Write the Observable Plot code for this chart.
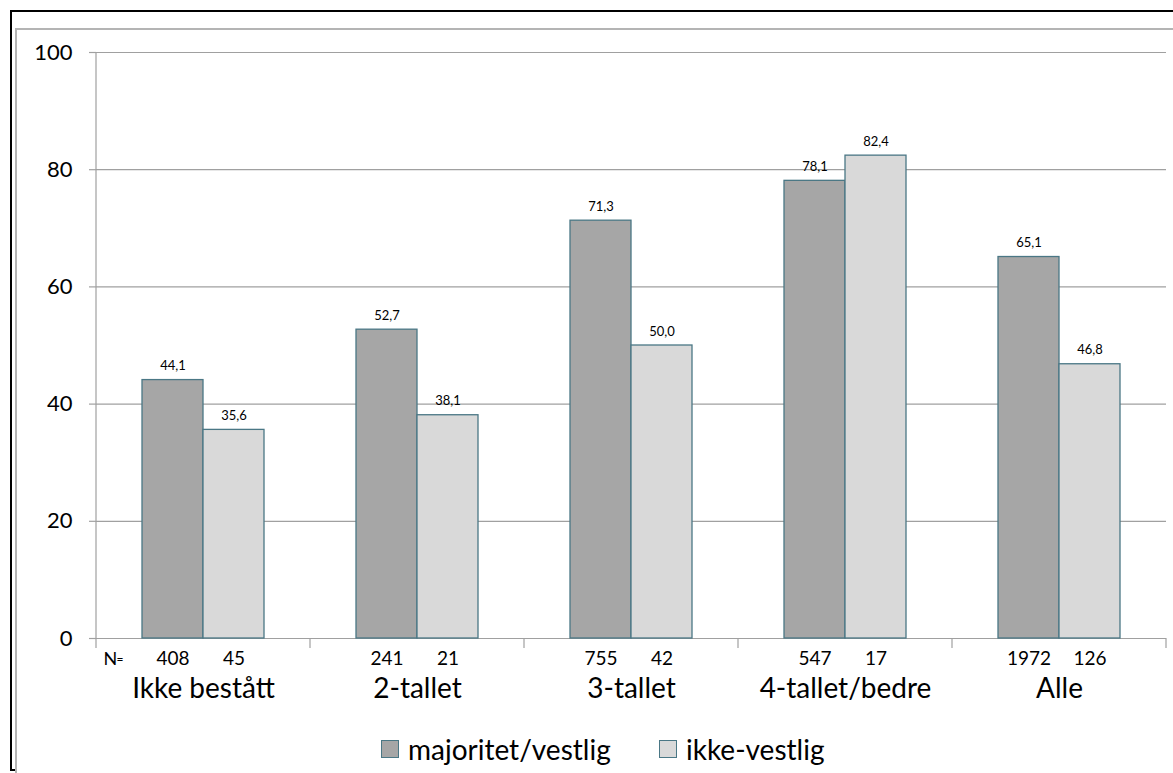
<!DOCTYPE html>
<html>
<head>
<meta charset="utf-8">
<script src="https://cdn.jsdelivr.net/npm/d3@7"></script>
<script src="https://cdn.jsdelivr.net/npm/@observablehq/plot@0.6"></script>
<style>
  html, body { margin: 0; padding: 0; background: #fff; }
  body { width: 1173px; height: 773px; position: relative; overflow: hidden; font-family: Lato, "Open Sans", sans-serif; }
  #chart { position: absolute; left: 0; top: 0; z-index: 1; }
  .bline { position: absolute; background: #000; z-index: 5; }
  .gline { position: absolute; background: #b4b4b4; z-index: 4; }
  .item { position: absolute; top: 731px; display: flex; align-items: center; font-size: 28px; line-height: 36px; color: #000; z-index: 2; }
  .sw { width: 18px; height: 18px; border: 1.3px solid #4a7785; margin-right: 9px; box-sizing: border-box; }
</style>
</head>
<body>
<div class="gline" style="left:15px; top:28px; width:1158px; height:2px;"></div>
<div class="gline" style="left:15px; top:28px; width:2px; height:745px;"></div>
<div class="bline" style="left:10px; top:10px; width:1163px; height:2px;"></div>
<div class="bline" style="left:10px; top:10px; width:2px; height:761px;"></div>
<div class="bline" style="left:10px; top:769px; width:5px; height:2px;"></div>
<div id="chart"></div>
<div id="legend"></div>
<script>
const categories = ["Ikke bestått", "2-tallet", "3-tallet", "4-tallet/bedre", "Alle"];
const series = ["majoritet/vestlig", "ikke-vestlig"];
const majoritetValues = [44.1, 52.7, 71.3, 78.1, 65.1];
const ikkeVestligValues = [35.6, 38.1, 50.0, 82.4, 46.8];
const majoritetN = [408, 241, 755, 547, 1972];
const ikkeVestligN = [45, 21, 42, 17, 126];
const yTicks = [0, 20, 40, 60, 80, 100];
const seriesColors = ["#a6a6a6", "#d9d9d9"];

const data = [];
categories.forEach((c, i) => {
  data.push({cat: c, series: series[0], value: majoritetValues[i], n: majoritetN[i]});
  data.push({cat: c, series: series[1], value: ikkeVestligValues[i], n: ikkeVestligN[i]});
});
const fmt = v => d3.format(".1f")(v).replace(".", ",");
const gridColor = "#a0a0a0";
const barStroke = "#4a7785";

const plot = Plot.plot({
  width: 1173,
  height: 705,
  marginLeft: 95,
  marginRight: 7,
  marginTop: 52,
  marginBottom: 67,
  style: {fontFamily: "Lato, 'Open Sans', sans-serif", background: "transparent", color: "#000"},
  fx: {domain: categories, paddingInner: 0, paddingOuter: 0, label: null, axis: null},
  x: {domain: series, paddingInner: 0, paddingOuter: 0.726, axis: null},
  y: {domain: [0, 100], axis: null},
  color: {domain: series, range: seriesColors},
  marks: [
    Plot.gridY(yTicks, {stroke: gridColor, strokeOpacity: 1, strokeWidth: 1.2}),
    Plot.ruleY([0], {stroke: gridColor, strokeWidth: 1.2}),
    Plot.axisY(yTicks, {tickSize: 7, tickPadding: 17, fontSize: 22, stroke: gridColor, strokeWidth: 1.2, fill: "#000", label: null}),
    Plot.barY(data, {fx: "cat", x: "series", y: "value", fill: "series", stroke: barStroke, strokeWidth: 1.3}),
    Plot.text(data, {fx: "cat", x: "series", y: "value", text: d => fmt(d.value), lineAnchor: "bottom", dy: -10, fontSize: 13, fill: "#000"}),
    Plot.text(data, {fx: "cat", x: "series", y: () => 0, text: d => String(d.n), lineAnchor: "bottom", dy: 26, fontSize: 19, fill: "#000"}),
    Plot.text([{cat: categories[0]}], {fx: "cat", text: () => "N", frameAnchor: "bottom-left", textAnchor: "start", lineAnchor: "bottom", dx: 7, dy: 26, fontSize: 18, fill: "#000"}),
    Plot.text([{cat: categories[0]}], {fx: "cat", text: () => "=", frameAnchor: "bottom-left", textAnchor: "start", lineAnchor: "bottom", dx: 20, dy: 24, fontSize: 12, fill: "#000"}),
    Plot.axisFx({anchor: "bottom", tickSize: 0, tickPadding: 40, fontSize: 28, label: null, fill: "#000"})
  ]
});
document.getElementById("chart").appendChild(plot);

// axis line and group-boundary ticks from the library's scales
const fx = plot.scale("fx");
const y = plot.scale("y");
const svg = d3.select(plot);
const y0 = y.apply(0), y100 = y.apply(100);
const g = svg.append("g").attr("stroke", gridColor).attr("stroke-width", 1.2);
const left = fx.apply(categories[0]);
g.append("line").attr("x1", left).attr("x2", left).attr("y1", y100).attr("y2", y0 + 10);
categories.forEach(c => {
  const xr = fx.apply(c) + fx.bandwidth;
  g.append("line").attr("x1", xr).attr("x2", xr).attr("y1", y0).attr("y2", y0 + 10);
});

// legend
const legendLeft = [381, 659];
series.forEach((s, i) => {
  const it = d3.select("body").append("div").attr("class", "item").style("left", legendLeft[i] + "px");
  it.append("div").attr("class", "sw").style("background", seriesColors[i]);
  it.append("span").text(s);
});
</script>
</body>
</html>
